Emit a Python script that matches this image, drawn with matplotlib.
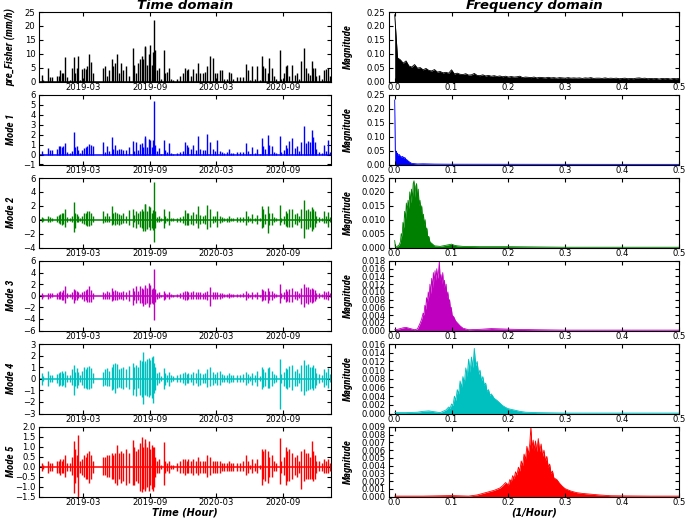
"""Time-domain and frequency-domain view of pre_Fisher and its 5 modes."""
import matplotlib
matplotlib.use("Agg")
import matplotlib.pyplot as plt
import matplotlib.dates as mdates
import numpy as np
from matplotlib import font_manager
from matplotlib.ticker import FormatStrFormatter, MultipleLocator

START = np.datetime64("2018-11-01")
END = np.datetime64("2021-01-10")

# rain events, days since START
event_day = [
    7, 12, 26, 30, 35, 50, 56, 58, 62, 67,
    72, 76, 85, 91, 96, 100, 103, 106, 112, 119,
    123, 128, 133, 138, 142, 147, 175, 182, 187, 193,
    200, 204, 208, 215, 219, 226, 231, 239, 246, 257,
    261, 266, 271, 277, 282, 286, 290, 292, 295, 301,
    304, 309, 312, 315, 319, 323, 330, 336, 343, 347,
    352, 357, 363, 368, 378, 387, 394, 400, 405, 410,
    416, 423, 430, 436, 442, 451, 455, 462, 470, 476,
    483, 489, 496, 501, 507, 515, 522, 527, 533, 542,
    551, 559, 568, 573, 579, 585, 592, 599, 606, 611,
    615, 620, 627, 632, 638, 644, 650, 661, 665, 672,
    677, 681, 685, 695, 702, 707, 714, 720, 727, 732,
    738, 743, 750, 752, 757, 761, 769, 776, 782, 788,
    792, 798,
]

pre_fisher = [
    2.5, 0.5, 4.7, 1.5, 1.5, 2.0, 2.0, 4.3, 3.0, 3.0,
    8.7, 1.5, 0.5, 5.0, 8.7, 3.0, 5.0, 9.3, 0.5, 4.5,
    5.0, 4.5, 5.5, 10.0, 7.0, 3.0, 5.0, 5.5, 2.0, 4.0,
    8.0, 5.5, 6.5, 10.0, 3.0, 6.8, 4.0, 5.5, 2.0, 12.0,
    6.0, 3.0, 6.8, 8.0, 9.0, 8.0, 12.7, 12.5, 6.0, 9.8,
    13.2, 6.0, 10.5, 22.0, 11.5, 4.0, 5.0, 1.0, 11.5, 3.0,
    3.5, 5.0, 1.0, 0.5, 1.0, 2.0, 3.0, 5.0, 4.0, 4.5,
    2.0, 4.5, 3.0, 6.5, 3.0, 3.0, 3.5, 5.5, 9.2, 8.5,
    3.0, 3.0, 4.0, 4.3, 1.0, 1.0, 3.5, 3.0, 1.0, 1.5,
    1.5, 1.5, 6.2, 4.0, 0.5, 5.5, 1.0, 5.5, 0.5, 9.0,
    5.5, 5.0, 3.0, 8.5, 5.0, 2.0, 1.0, 11.5, 1.0, 3.0,
    5.5, 5.8, 2.0, 5.8, 2.5, 3.0, 1.0, 7.5, 12.0, 5.0,
    3.0, 2.5, 7.5, 5.0, 5.0, 2.0, 2.5, 1.0, 4.0, 4.5,
    4.8, 2.0,
]

mode1 = [
    0.4, 0.1, 0.65, 0.5, 0.45, 0.6, 0.9, 0.9, 0.8, 0.9,
    1.2, 0.3, 0.2, 0.4, 2.25, 0.8, 0.9, 0.5, 0.2, 0.5,
    0.7, 0.8, 0.9, 1.1, 1.0, 0.9, 1.3, 0.3, 0.9, 0.4,
    1.75, 0.6, 1.0, 0.5, 0.6, 0.6, 0.5, 0.5, 0.8, 1.4,
    0.4, 1.3, 0.5, 1.1, 1.2, 0.8, 1.9, 1.7, 0.8, 1.6,
    1.5, 0.8, 1.5, 5.35, 1.0, 0.4, 0.7, 0.1, 1.5, 0.5,
    0.3, 1.2, 0.2, 0.1, 0.2, 0.3, 0.4, 1.3, 1.0, 0.8,
    0.6, 1.0, 0.5, 1.85, 0.6, 0.5, 0.5, 2.1, 1.3, 0.6,
    0.4, 1.5, 0.4, 0.3, 0.2, 0.3, 0.6, 0.2, 0.2, 0.3,
    0.3, 0.3, 1.2, 0.4, 0.1, 0.8, 0.2, 0.6, 0.1, 1.7,
    0.9, 0.6, 2.0, 1.0, 0.9, 0.3, 0.2, 1.85, 0.3, 0.5,
    1.0, 0.7, 1.4, 1.7, 0.7, 0.9, 0.4, 1.3, 2.85, 1.2,
    1.4, 1.3, 2.5, 1.8, 1.3, 0.6, 0.3, 0.2, 1.0, 0.4,
    1.5, 0.3,
]

mode2_hi = [
    0.4, 0.2, 0.6, 0.4, 0.3, 0.6, 0.7, 0.8, 0.9, 1.0,
    1.6, 0.4, 0.3, 0.5, 2.6, 1.0, 0.8, 0.5, 0.3, 0.6,
    0.9, 1.0, 1.2, 1.3, 1.0, 0.5, 1.2, 0.6, 1.0, 0.5,
    2.0, 0.9, 1.1, 1.0, 0.8, 0.7, 0.9, 0.6, 1.4, 1.5,
    0.7, 1.3, 0.9, 1.3, 1.5, 1.2, 2.2, 2.3, 1.3, 2.0,
    1.8, 1.0, 1.4, 5.4, 1.3, 0.4, 0.6, 0.2, 1.6, 0.5,
    0.3, 1.3, 0.3, 0.2, 0.3, 0.4, 0.6, 1.4, 1.0, 0.9,
    0.7, 1.1, 0.8, 2.0, 0.7, 0.6, 0.7, 2.1, 1.5, 0.6,
    0.5, 1.3, 0.5, 0.4, 0.3, 0.3, 0.5, 0.3, 0.3, 0.4,
    0.4, 0.4, 1.2, 0.5, 0.2, 0.8, 0.3, 0.7, 0.2, 2.0,
    1.5, 0.8, 2.0, 1.0, 0.9, 0.4, 0.3, 2.1, 0.3, 0.6,
    1.3, 1.0, 1.6, 1.6, 0.8, 0.9, 0.5, 1.5, 2.8, 1.4,
    1.6, 1.3, 1.8, 1.6, 1.2, 0.5, 0.4, 0.3, 1.2, 0.6,
    1.1, 0.4,
]
mode2_lo = [
    -0.3, -0.2, -0.3, -0.3, -0.2, -0.4, -0.5, -0.6, -0.7, -0.6,
    -1.0, -0.3, -0.2, -0.4, -1.7, -1.2, -0.4, -0.3, -0.2, -0.5,
    -0.6, -0.8, -0.9, -0.9, -0.8, -0.4, -0.5, -0.4, -0.4, -0.4,
    -0.8, -0.6, -0.7, -0.6, -0.7, -0.6, -0.5, -0.5, -0.8, -1.0,
    -0.4, -1.2, -0.6, -1.1, -1.2, -1.6, -1.6, -1.3, -1.4, -1.0,
    -1.5, -1.2, -1.5, -3.2, -1.2, -0.4, -0.4, -0.2, -1.2, -0.5,
    -0.2, -0.7, -0.2, -0.2, -0.3, -0.3, -0.5, -0.7, -0.8, -0.7,
    -0.6, -0.7, -0.5, -1.2, -0.6, -0.5, -0.6, -1.4, -1.1, -0.5,
    -0.4, -1.0, -0.5, -0.3, -0.2, -0.3, -0.3, -0.2, -0.2, -0.3,
    -0.3, -0.3, -0.7, -0.4, -0.2, -0.5, -0.2, -0.6, -0.2, -1.2,
    -1.0, -0.6, -1.9, -0.8, -0.7, -0.3, -0.2, -0.8, -0.3, -0.6,
    -0.9, -1.0, -1.0, -1.1, -0.6, -0.7, -0.4, -1.2, -2.6, -1.3,
    -1.4, -1.1, -1.6, -1.3, -1.0, -0.5, -0.3, -0.2, -0.5, -0.5,
    -1.0, -0.3,
]

mode3_hi = [
    0.5, 0.2, 0.5, 0.4, 0.4, 0.5, 0.6, 0.8, 0.7, 1.0,
    1.6, 0.4, 0.3, 0.6, 1.2, 1.0, 0.8, 0.6, 0.3, 0.7,
    0.9, 1.0, 1.2, 1.6, 1.0, 0.5, 0.7, 0.5, 0.8, 0.6,
    1.4, 0.8, 1.0, 0.9, 0.7, 0.6, 0.9, 0.6, 1.0, 1.3,
    0.8, 1.6, 0.9, 1.6, 1.3, 1.2, 1.9, 1.5, 1.3, 2.2,
    1.8, 1.2, 1.3, 4.7, 1.2, 0.5, 0.6, 0.2, 0.9, 0.5,
    0.3, 0.6, 0.3, 0.2, 0.3, 0.5, 0.7, 0.9, 0.8, 0.7,
    0.6, 0.8, 0.7, 0.7, 0.6, 0.5, 0.6, 0.8, 1.5, 0.7,
    0.6, 0.7, 0.5, 0.4, 0.3, 0.3, 0.4, 0.3, 0.3, 0.3,
    0.3, 0.4, 0.8, 0.5, 0.2, 0.6, 0.3, 0.6, 0.2, 1.2,
    1.0, 0.8, 1.3, 0.9, 0.8, 0.4, 0.3, 2.1, 0.4, 0.7,
    1.2, 0.9, 1.2, 1.4, 0.8, 0.9, 0.5, 1.4, 2.1, 1.5,
    1.5, 1.2, 1.3, 1.2, 1.0, 0.5, 0.4, 0.3, 0.8, 0.6,
    0.9, 0.4,
]
mode3_lo = [
    -0.5, -0.2, -0.5, -0.4, -0.3, -0.5, -0.5, -0.6, -0.8, -0.8,
    -1.3, -0.4, -0.3, -0.5, -1.2, -0.8, -0.7, -0.4, -0.3, -0.6,
    -0.9, -0.8, -1.0, -1.1, -1.0, -0.5, -0.6, -0.5, -0.6, -0.5,
    -0.9, -0.7, -0.8, -0.7, -0.6, -0.6, -0.7, -0.5, -0.9, -1.6,
    -0.7, -1.2, -0.8, -1.3, -1.2, -1.8, -1.5, -1.4, -1.2, -2.0,
    -1.5, -1.2, -1.4, -4.2, -1.1, -0.5, -0.4, -0.2, -0.8, -0.5,
    -0.3, -0.6, -0.3, -0.2, -0.3, -0.4, -0.6, -0.8, -0.7, -0.6,
    -0.5, -0.6, -0.5, -0.6, -0.6, -0.5, -0.5, -0.7, -1.8, -0.6,
    -0.5, -0.6, -0.5, -0.4, -0.3, -0.3, -0.4, -0.3, -0.3, -0.3,
    -0.3, -0.3, -0.8, -0.4, -0.2, -0.6, -0.3, -0.5, -0.2, -0.9,
    -0.8, -0.7, -1.2, -0.8, -0.7, -0.4, -0.3, -1.2, -0.4, -0.6,
    -1.0, -0.9, -1.0, -1.1, -0.6, -0.7, -0.4, -1.4, -1.9, -1.3,
    -1.4, -1.1, -1.2, -1.0, -0.9, -0.5, -0.4, -0.3, -0.6, -0.5,
    -0.8, -0.3,
]

mode4_hi = [
    0.5, 0.2, 0.7, 0.3, 0.3, 0.4, 0.5, 0.6, 0.7, 0.5,
    0.7, 0.3, 0.3, 0.8, 1.2, 0.6, 0.9, 0.6, 0.3, 0.7,
    1.0, 0.8, 1.0, 1.1, 0.9, 0.5, 0.6, 0.8, 0.9, 0.7,
    1.0, 1.3, 1.4, 1.3, 0.8, 0.9, 1.0, 0.8, 1.1, 1.4,
    1.0, 1.2, 1.0, 1.6, 1.5, 2.35, 1.5, 1.4, 1.7, 1.8,
    1.6, 1.9, 2.0, 1.4, 1.0, 0.5, 0.6, 0.2, 0.9, 0.5,
    0.3, 0.6, 0.3, 0.2, 0.3, 0.4, 0.5, 0.6, 0.4, 0.5,
    0.4, 0.6, 0.5, 0.8, 0.5, 0.4, 0.5, 0.8, 1.0, 0.6,
    0.4, 0.6, 0.7, 0.4, 0.3, 0.3, 0.5, 0.3, 0.3, 0.3,
    0.3, 0.4, 0.6, 0.4, 0.2, 0.5, 0.3, 0.7, 0.2, 1.0,
    0.8, 0.6, 0.9, 1.0, 0.7, 0.4, 0.3, 1.7, 0.4, 0.6,
    0.9, 0.8, 1.1, 1.2, 0.7, 0.8, 0.5, 1.2, 1.6, 1.2,
    1.3, 1.0, 1.0, 1.2, 0.9, 0.5, 0.4, 0.3, 0.8, 0.6,
    0.9, 0.4,
]
mode4_lo = [
    -0.5, -0.2, -0.6, -0.3, -0.3, -0.4, -0.6, -0.5, -0.6, -0.5,
    -0.7, -0.3, -0.3, -0.5, -1.4, -0.6, -0.8, -0.5, -0.3, -0.5,
    -0.8, -0.8, -0.9, -0.9, -0.8, -0.4, -0.6, -0.5, -0.6, -0.6,
    -1.0, -0.9, -1.2, -0.8, -0.7, -0.8, -0.9, -0.7, -0.9, -1.4,
    -0.9, -1.5, -0.8, -1.4, -1.6, -2.2, -1.4, -1.3, -1.5, -1.6,
    -1.4, -1.7, -2.1, -1.2, -1.0, -0.5, -0.4, -0.2, -0.9, -0.5,
    -0.3, -0.6, -0.3, -0.2, -0.3, -0.3, -0.4, -0.5, -0.4, -0.4,
    -0.3, -0.5, -0.4, -0.6, -0.5, -0.4, -0.4, -0.7, -0.6, -0.5,
    -0.4, -0.5, -0.5, -0.3, -0.3, -0.3, -0.4, -0.3, -0.3, -0.3,
    -0.3, -0.3, -0.5, -0.4, -0.2, -0.5, -0.3, -0.6, -0.2, -0.9,
    -0.7, -0.6, -0.8, -0.8, -0.6, -0.4, -0.3, -2.6, -0.4, -0.6,
    -0.8, -0.9, -0.7, -1.0, -0.6, -0.6, -0.4, -1.1, -1.4, -1.1,
    -1.0, -0.9, -0.8, -1.0, -0.8, -0.5, -0.4, -0.3, -0.7, -0.5,
    -0.8, -0.3,
]

mode5_hi = [
    0.2, 0.1, 0.3, 0.2, 0.2, 0.3, 0.3, 0.4, 0.3, 0.4,
    0.6, 0.2, 0.2, 0.5, 1.3, 0.9, 0.6, 1.6, 0.3, 0.4,
    0.6, 0.5, 0.7, 0.8, 0.6, 0.3, 0.5, 0.5, 0.6, 0.6,
    0.7, 0.6, 0.7, 1.1, 0.7, 0.8, 0.7, 0.9, 0.7, 1.35,
    1.0, 0.8, 0.9, 1.2, 1.5, 1.0, 1.4, 1.2, 1.0, 1.3,
    0.9, 1.1, 1.0, 1.0, 0.5, 0.3, 0.4, 0.1, 1.25, 0.3,
    0.2, 0.3, 0.1, 0.1, 0.2, 0.3, 0.4, 0.4, 0.3, 0.4,
    0.3, 0.4, 0.3, 0.5, 0.3, 0.3, 0.3, 0.6, 0.5, 0.3,
    0.3, 0.3, 0.3, 0.2, 0.2, 0.2, 0.3, 0.2, 0.2, 0.2,
    0.2, 0.3, 0.6, 0.3, 0.1, 0.4, 0.2, 0.4, 0.1, 0.9,
    0.8, 0.9, 0.8, 0.5, 0.6, 0.3, 0.2, 1.45, 0.3, 0.5,
    1.0, 0.8, 0.9, 0.7, 0.5, 0.6, 0.3, 0.8, 0.9, 0.7,
    0.7, 0.5, 1.3, 0.8, 0.6, 0.3, 0.3, 0.2, 0.4, 0.3,
    0.4, 0.2,
]
mode5_lo = [
    -0.2, -0.1, -0.3, -0.2, -0.2, -0.3, -0.3, -0.4, -0.3, -0.3,
    -0.5, -0.2, -0.2, -0.4, -1.3, -0.8, -0.5, -1.5, -0.3, -0.4,
    -0.5, -0.6, -0.6, -0.8, -0.6, -0.3, -0.4, -0.4, -0.5, -0.5,
    -0.6, -0.6, -0.8, -0.9, -0.6, -0.8, -0.7, -0.9, -0.8, -0.9,
    -0.9, -0.7, -0.8, -1.2, -1.25, -1.1, -1.2, -1.1, -1.0, -1.2,
    -0.9, -1.1, -1.2, -1.0, -0.5, -0.3, -0.3, -0.1, -0.9, -0.3,
    -0.2, -0.3, -0.1, -0.1, -0.2, -0.3, -0.3, -0.4, -0.3, -0.3,
    -0.3, -0.4, -0.3, -0.4, -0.3, -0.3, -0.3, -0.5, -0.4, -0.3,
    -0.3, -0.3, -0.3, -0.2, -0.2, -0.2, -0.2, -0.2, -0.2, -0.2,
    -0.2, -0.2, -0.4, -0.3, -0.1, -0.3, -0.2, -0.3, -0.1, -0.9,
    -0.6, -0.7, -0.8, -0.5, -0.5, -0.2, -0.2, -0.85, -0.3, -0.4,
    -0.9, -0.7, -0.7, -0.6, -0.4, -0.5, -0.3, -1.1, -0.7, -0.6,
    -0.6, -0.6, -0.6, -0.7, -0.6, -0.3, -0.2, -0.2, -0.3, -0.3,
    -0.3, -0.2,
]

# spectra: frequency (1/hour) and magnitude
pre_freq = np.linspace(0.0, 0.5, 101)
pre_mag = [
    0.240, 0.085, 0.078, 0.066, 0.074, 0.056, 0.052, 0.061, 0.048, 0.050,
    0.042, 0.047, 0.040, 0.038, 0.043, 0.034, 0.036, 0.031, 0.033, 0.030,
    0.042, 0.027, 0.030, 0.026, 0.025, 0.028, 0.023, 0.024, 0.029, 0.022,
    0.021, 0.024, 0.020, 0.022, 0.019, 0.021, 0.018, 0.020, 0.017, 0.019,
    0.016, 0.018, 0.016, 0.017, 0.019, 0.014, 0.016, 0.015, 0.014, 0.016,
    0.013, 0.015, 0.014, 0.013, 0.015, 0.013, 0.014, 0.012, 0.014, 0.013,
    0.012, 0.014, 0.012, 0.013, 0.012, 0.013, 0.011, 0.013, 0.012, 0.014,
    0.011, 0.012, 0.012, 0.011, 0.013, 0.011, 0.012, 0.011, 0.012, 0.010,
    0.011, 0.012, 0.010, 0.011, 0.010, 0.012, 0.013, 0.011, 0.012, 0.010,
    0.011, 0.010, 0.011, 0.009, 0.011, 0.010, 0.011, 0.009, 0.011, 0.010,
    0.011,
]

m1_freq = [0.0, 0.001, 0.002, 0.003, 0.004, 0.005, 0.006, 0.008, 0.010, 0.012,
           0.014, 0.016, 0.018, 0.020, 0.022, 0.024, 0.026, 0.028, 0.030, 0.035,
           0.040, 0.050, 0.060, 0.070, 0.100, 0.200, 0.300, 0.400, 0.500]
m1_mag = [0.232, 0.050, 0.045, 0.048, 0.038, 0.040, 0.033, 0.036, 0.030, 0.027,
          0.029, 0.024, 0.025, 0.018, 0.016, 0.012, 0.009, 0.006, 0.004, 0.003,
          0.002, 0.0025, 0.002, 0.0015, 0.001, 0.0008, 0.0006, 0.0005, 0.0005]

m2_freq = [0.0, 0.001, 0.002, 0.004, 0.008, 0.0100, 0.0115, 0.0130, 0.0145, 0.0160,
           0.0175, 0.0190, 0.0205, 0.0220, 0.0235, 0.0250, 0.0265, 0.0280, 0.0295,
           0.0310, 0.0325, 0.0340, 0.0355, 0.0370, 0.0385, 0.0400, 0.0415, 0.0430,
           0.0445, 0.0460, 0.0475, 0.0490, 0.0505, 0.0520, 0.0535, 0.0550, 0.0565,
           0.0580, 0.0600, 0.0620, 0.0650, 0.0700, 0.080, 0.090, 0.095, 0.100,
           0.105, 0.110, 0.120, 0.150, 0.200, 0.250, 0.300, 0.400, 0.500]
m2_mag = [0.0025, 0.0003, 0.0002, 0.0003, 0.001, 0.002, 0.005, 0.004, 0.009, 0.007,
          0.013, 0.010, 0.016, 0.013, 0.017, 0.014, 0.020, 0.016, 0.021,
          0.017, 0.023, 0.024, 0.018, 0.022, 0.023, 0.017, 0.021, 0.015,
          0.017, 0.013, 0.015, 0.010, 0.012, 0.008, 0.010, 0.006, 0.007,
          0.004, 0.004, 0.002, 0.0015, 0.0006, 0.0004, 0.0008, 0.001, 0.0012,
          0.0008, 0.0006, 0.0004, 0.0003, 0.0003, 0.0002, 0.0001, 0.0001, 0.0001]

m3_freq = [0.000, 0.005, 0.010, 0.015, 0.020, 0.025, 0.030, 0.035, 0.040, 0.0425,
           0.0450, 0.0475, 0.0500, 0.0515, 0.0530, 0.0545, 0.0560, 0.0575, 0.0590,
           0.0605, 0.0620, 0.0635, 0.0650, 0.0665, 0.0680, 0.0695, 0.0710, 0.0725,
           0.0740, 0.0755, 0.0770, 0.0785, 0.0800, 0.0815, 0.0830, 0.0845, 0.0860,
           0.0875, 0.0890, 0.0905, 0.0920, 0.0935, 0.0950, 0.0965, 0.0980, 0.0995,
           0.1010, 0.1040, 0.1070, 0.1100, 0.1150, 0.1200, 0.1300, 0.1500, 0.1700,
           0.1900, 0.2100, 0.2500, 0.3000, 0.4000, 0.5000]
m3_mag = [0.0002, 0.0003, 0.0005, 0.0007, 0.0008, 0.0006, 0.0004, 0.0002, 0.0004, 0.0012,
          0.0020, 0.0030, 0.0045, 0.0040, 0.0065, 0.0055, 0.0085, 0.0070, 0.0100,
          0.0085, 0.0120, 0.0095, 0.0135, 0.0110, 0.0150, 0.0125, 0.0155, 0.0130,
          0.0160, 0.0135, 0.0150, 0.0180, 0.0130, 0.0145, 0.0120, 0.0150, 0.0110,
          0.0130, 0.0100, 0.0120, 0.0085, 0.0100, 0.0070, 0.0080, 0.0055, 0.0060,
          0.0040, 0.0035, 0.0025, 0.0020, 0.0012, 0.0006, 0.0002, 0.0003, 0.0005,
          0.0004, 0.0003, 0.0002, 0.0001, 0.0001, 0.0001]

m4_freq = [0.000, 0.020, 0.040, 0.050, 0.060, 0.070, 0.080, 0.085, 0.090, 0.095,
           0.0975, 0.100, 0.1025, 0.105, 0.1075, 0.110, 0.1125, 0.115, 0.1175,
           0.120, 0.1225, 0.125, 0.1275, 0.130, 0.1325, 0.135, 0.1375, 0.140,
           0.1425, 0.145, 0.1475, 0.150, 0.1525, 0.155, 0.1575, 0.160, 0.1625,
           0.165, 0.1675, 0.170, 0.175, 0.180, 0.185, 0.190, 0.195, 0.200,
           0.210, 0.220, 0.230, 0.250, 0.300, 0.400, 0.500]
m4_mag = [0.0002, 0.0002, 0.0003, 0.0005, 0.0006, 0.0004, 0.0002, 0.0005, 0.0008, 0.0015,
          0.0012, 0.0022, 0.0018, 0.0040, 0.0030, 0.0055, 0.0045, 0.0075, 0.0060,
          0.0085, 0.0070, 0.0105, 0.0085, 0.0125, 0.0095, 0.0130, 0.0105, 0.0150,
          0.0110, 0.0120, 0.0090, 0.0100, 0.0075, 0.0085, 0.0065, 0.0070, 0.0050,
          0.0055, 0.0042, 0.0045, 0.0035, 0.0030, 0.0024, 0.0018, 0.0014, 0.0011,
          0.0008, 0.0005, 0.0003, 0.0002, 0.0001, 0.0001, 0.0001]

m5_freq = [0.000, 0.050, 0.100, 0.130, 0.145, 0.155, 0.165, 0.175, 0.185, 0.190,
           0.195, 0.200, 0.2025, 0.205, 0.2075, 0.210, 0.2125, 0.215, 0.2175,
           0.220, 0.2225, 0.225, 0.2275, 0.230, 0.2325, 0.235, 0.2375, 0.2395,
           0.2415, 0.2435, 0.2455, 0.2475, 0.250, 0.2525, 0.255, 0.2575, 0.260,
           0.2625, 0.265, 0.2675, 0.270, 0.2725, 0.275, 0.2775, 0.280, 0.285,
           0.290, 0.295, 0.300, 0.310, 0.320, 0.330, 0.345, 0.360, 0.380,
           0.400, 0.450, 0.500]
m5_mag = [0.00005, 0.00005, 0.00012, 0.00005, 0.0002, 0.0004, 0.0006, 0.0008, 0.0011, 0.0014,
          0.0018, 0.0015, 0.0022, 0.0019, 0.0027, 0.0023, 0.0032, 0.0028, 0.0038,
          0.0033, 0.0046, 0.0040, 0.0055, 0.0048, 0.0065, 0.0055, 0.0068, 0.0090,
          0.0062, 0.0073, 0.0060, 0.0072, 0.0058, 0.0075, 0.0058, 0.0068, 0.0052,
          0.0060, 0.0046, 0.0052, 0.0038, 0.0042, 0.0030, 0.0033, 0.0024, 0.0022,
          0.0017, 0.0013, 0.0010, 0.0007, 0.0005, 0.0004, 0.0003, 0.0002, 0.0001,
          0.00008, 0.00005, 0.00005]

time_panels = [
    ("pre_Fisher (mm/h)", pre_fisher, None, "k", (0, 25), 5),
    ("Mode 1", mode1, None, "b", (-1, 6), 1),
    ("Mode 2", mode2_hi, mode2_lo, "g", (-4, 6), 2),
    ("Mode 3", mode3_hi, mode3_lo, "m", (-6, 6), 2),
    ("Mode 4", mode4_hi, mode4_lo, "c", (-3, 3), 1),
    ("Mode 5", mode5_hi, mode5_lo, "r", (-1.5, 2.0), 0.5),
]
freq_panels = [
    (pre_freq, pre_mag, "k", 0.25, 0.05, "%.2f"),
    (m1_freq, m1_mag, "b", 0.25, 0.05, "%.2f"),
    (m2_freq, m2_mag, "g", 0.025, 0.005, "%.3f"),
    (m3_freq, m3_mag, "m", 0.018, 0.002, "%.3f"),
    (m4_freq, m4_mag, "c", 0.016, 0.002, "%.3f"),
    (m5_freq, m5_mag, "r", 0.009, 0.001, "%.3f"),
]

COLORS = {"k": "black", "b": "#0000ff", "g": "#008000",
          "m": "#bf00bf", "c": "#00bfbf", "r": "#ff0000"}

plt.rcParams.update({
    "font.family": "DejaVu Sans",
    "xtick.direction": "in", "ytick.direction": "in",
    "xtick.top": True, "ytick.right": True,
    "xtick.major.size": 3, "ytick.major.size": 3,
    "xtick.labelsize": 6.1, "ytick.labelsize": 6.1,
    "xtick.major.pad": 0.8, "ytick.major.pad": 2.5,
    "axes.linewidth": 0.8,
})

FIG_W, FIG_H = 685, 519
ROW_TOP = 12
ROW_STEP = 83.0
ROW_H = 69.5


def rect(left, top, width, height):
    return [left / FIG_W, 1 - (top + height) / FIG_H, width / FIG_W, height / FIG_H]


def pick_narrow():
    names = {f.name for f in font_manager.fontManager.ttflist}
    for name in ("Liberation Sans Narrow", "Roboto Condensed", "Open Sans Condensed",
                 "Liberation Sans", "DejaVu Sans"):
        if name in names:
            return name
    return "DejaVu Sans"


NARROW = pick_narrow()
NARROW_SIZE = 7.8 if "Narrow" in NARROW or "Condensed" in NARROW else 6.0
TITLE_FONT = dict(fontsize=9.5, fontweight="bold", fontstyle="italic")
XLABEL_FONT = dict(fontsize=7, fontweight="bold", fontstyle="italic")
YLABEL_FONT = dict(family=NARROW, fontsize=NARROW_SIZE,
                   fontweight="bold", fontstyle="italic")


def main():
    fig = plt.figure(figsize=(FIG_W / 100, FIG_H / 100), dpi=100)
    x = mdates.date2num(START + np.asarray(event_day).astype("timedelta64[D]"))
    x_end = mdates.date2num(END)
    x_start = mdates.date2num(START)

    for i, (label, hi, lo, c, ylim, step) in enumerate(time_panels):
        top = ROW_TOP + i * ROW_STEP
        ax = fig.add_axes(rect(39, top, 292, ROW_H))
        col = COLORS[c]
        low = np.zeros(len(hi)) if lo is None else np.asarray(lo)
        ax.axhline(0, color=col, lw=1.1, zorder=1)
        ax.vlines(x, low, hi, color=col, lw=1.0, zorder=2)
        ax.set_xlim(x_start, x_end)
        ax.set_ylim(*ylim)
        ax.yaxis.set_major_locator(MultipleLocator(step))
        ax.xaxis.set_major_locator(mdates.MonthLocator(bymonth=(3, 9)))
        ax.xaxis.set_major_formatter(mdates.DateFormatter("%Y-%m"))
        ax.set_ylabel(label, **YLABEL_FONT)
        ax.yaxis.set_label_coords(-0.078, 0.5)
        if i == 0:
            ax.set_title("Time domain", pad=2, **TITLE_FONT)
        if i == len(time_panels) - 1:
            ax.set_xlabel("Time (Hour)", labelpad=0.5, **XLABEL_FONT)

    for i, (f, m, c, ymax, step, fmt) in enumerate(freq_panels):
        top = ROW_TOP + i * ROW_STEP
        ax = fig.add_axes(rect(389, top, 290, ROW_H))
        col = COLORS[c]
        ax.fill_between(f, 0, m, color=col, lw=0)
        ax.plot(f, m, color=col, lw=0.6)
        ax.set_xlim(-0.01, 0.5)
        ax.set_ylim(0, ymax)
        ax.xaxis.set_major_locator(MultipleLocator(0.1))
        ax.xaxis.set_major_formatter(FormatStrFormatter("%.1f"))
        ax.yaxis.set_major_locator(MultipleLocator(step))
        ax.yaxis.set_major_formatter(FormatStrFormatter(fmt))
        ax.set_ylabel("Magnitude", **YLABEL_FONT)
        ax.yaxis.set_label_coords(-0.124, 0.5)
        if i == 0:
            ax.set_title("Frequency domain", pad=2, **TITLE_FONT)
        if i == len(freq_panels) - 1:
            ax.set_xlabel("(1/Hour)", labelpad=0.5, **XLABEL_FONT)

    fig.savefig("out.png", dpi=100)
    plt.close(fig)


if __name__ == "__main__":
    main()
